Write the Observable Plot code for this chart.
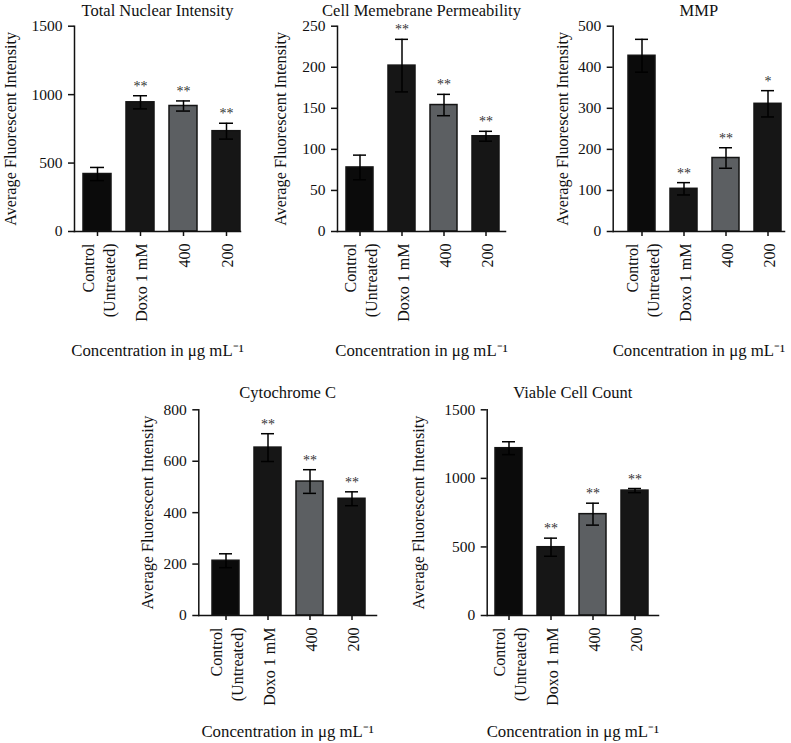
<!DOCTYPE html>
<html>
<head>
<meta charset="utf-8">
<script src="https://cdn.jsdelivr.net/npm/d3@7"></script>
<script src="https://cdn.jsdelivr.net/npm/@observablehq/plot@0.6"></script>
<style>
  body { margin: 0; background: #fff; }
  #root { position: relative; width: 791px; height: 743px; background: #fff; }
  #root svg { position: absolute; }
</style>
</head>
<body>
<div id="root"></div>
<script>
// ---- data ----
const categories = ["Control\n(Untreated)", "Doxo 1 mM", "400", "200"];

const nuclearMean = [420, 944, 917, 733];
const nuclearSem  = [48, 48, 37, 58];
const nuclearSig  = ["", "**", "**", "**"];

const permMean = [78, 202, 154, 116];
const permSem  = [15, 32, 13, 6];
const permSig  = ["", "**", "**", "**"];

const mmpMean = [428, 104, 179, 311];
const mmpSem  = [40, 15, 25, 32];
const mmpSig  = ["", "**", "**", "*"];

const cytoMean = [213, 653, 521, 454];
const cytoSem  = [27, 54, 46, 27];
const cytoSig  = ["", "**", "**", "**"];

const viableMean = [1220, 498, 739, 911];
const viableSem  = [47, 66, 80, 15];
const viableSig  = ["", "**", "**", "**"];

const panelTitles = ["Total Nuclear Intensity", "Cell Memebrane Permeability", "MMP", "Cytochrome C", "Viable Cell Count"];
const yTicksNuclear = [0, 500, 1000, 1500];
const yTicksPerm = [0, 50, 100, 150, 200, 250];
const yTicksMmp = [0, 100, 200, 300, 400, 500];
const yTicksCyto = [0, 200, 400, 600, 800];
const yTicksViable = [0, 500, 1000, 1500];
const yLabel = "Average Fluorescent Intensity";
const xLabel = "Concentration in μg mL⁻¹";

// ---- styles / layout ----
const barColors = ["#0b0b0b", "#161616", "#5c5f62", "#161616"];
const layout = [
  {left: 0,   top: 0,   width: 260, height: 370, axisX: 74,    axisEnd: 240, barStart: 83,    barEnd: 240, yTop: 25.7,  yZero: 231, labelDx: -64, titleY: 10,  xLabelY: 350},
  {left: 262, top: 0,   width: 260, height: 370, axisX: 337,   axisEnd: 505, barStart: 345,   barEnd: 501, yTop: 25.7,  yZero: 231, labelDx: -57, titleY: 10,  xLabelY: 350},
  {left: 530, top: 0,   width: 261, height: 370, axisX: 612.7, axisEnd: 784, barStart: 627,   barEnd: 783, yTop: 25.7,  yZero: 231, labelDx: -50, titleY: 10,  xLabelY: 350},
  {left: 120, top: 370, width: 270, height: 373, axisX: 198.3, axisEnd: 376, barStart: 210.7, barEnd: 367, yTop: 409.3, yZero: 615, labelDx: -51, titleY: 392, xLabelY: 731},
  {left: 400, top: 370, width: 280, height: 373, axisX: 486.7, axisEnd: 658, barStart: 494,   barEnd: 649, yTop: 409.3, yZero: 615, labelDx: -68, titleY: 392, xLabelY: 731}
];

const panels = [
  {mean: nuclearMean, sem: nuclearSem, sig: nuclearSig, ticks: yTicksNuclear},
  {mean: permMean, sem: permSem, sig: permSig, ticks: yTicksPerm},
  {mean: mmpMean, sem: mmpSem, sig: mmpSig, ticks: yTicksMmp},
  {mean: cytoMean, sem: cytoSem, sig: cytoSig, ticks: yTicksCyto},
  {mean: viableMean, sem: viableSem, sig: viableSig, ticks: yTicksViable}
];

const root = document.getElementById("root");

panels.forEach((p, i) => {
  const L = layout[i];
  const rows = categories.map((c, j) => ({
    cat: c,
    mean: p.mean[j],
    lo: p.mean[j] - p.sem[j],
    hi: p.mean[j] + p.sem[j],
    sig: p.sig[j]
  }));
  const yMax = p.ticks[p.ticks.length - 1];
  const chart = Plot.plot({
    width: L.width,
    height: L.height,
    marginLeft: L.axisX - L.left,
    marginRight: L.left + L.width - L.axisEnd,
    marginTop: L.yTop - L.top,
    marginBottom: L.top + L.height - L.yZero,
    style: {fontFamily: "'Liberation Serif', 'Times New Roman', serif", fontSize: "15px", color: "#111", background: "transparent", overflow: "visible"},
    x: {domain: categories, range: [L.barStart - L.left, L.barEnd - L.left], paddingInner: 0.35, paddingOuter: 0, label: null},
    y: {domain: [0, yMax], label: null},
    color: {domain: categories, range: barColors},
    marks: [
      Plot.barY(rows, {x: "cat", y: "mean", fill: "cat", stroke: "#141414", strokeWidth: 1.5}),
      Plot.ruleX(rows, {x: "cat", y1: "lo", y2: "hi", stroke: "#000", strokeWidth: 1.5}),
      Plot.tickY(rows, {x: "cat", y: "hi", stroke: "#000", strokeWidth: 1.5, insetLeft: 7, insetRight: 7}),
      Plot.tickY(rows, {x: "cat", y: "lo", stroke: "#000", strokeWidth: 1.5, insetLeft: 7, insetRight: 7}),
      Plot.text(rows, {x: "cat", y: "hi", text: "sig", fontSize: 14, lineAnchor: "bottom", dy: -5, fill: "#333"}),
      Plot.frame({anchor: "left", stroke: "#111", strokeWidth: 1.5}),
      Plot.frame({anchor: "bottom", stroke: "#111", strokeWidth: 1.5}),
      Plot.axisY({ticks: p.ticks, tickFormat: d => String(d), tickSize: 6, tickPadding: 6, strokeWidth: 1.5, fontSize: 15.5, label: null}),
      Plot.axisX({tickSize: 5, tickPadding: 7, tickRotate: -90, fontSize: 16, lineHeight: 1.3, strokeWidth: 1.5, label: null}),
      Plot.text([panelTitles[i]], {frameAnchor: "top", dy: L.titleY - L.yTop, lineAnchor: "middle", fontSize: 16.5}),
      Plot.text([yLabel], {frameAnchor: "left", dx: L.labelDx, rotate: -90, lineAnchor: "middle", textAnchor: "middle", fontSize: 16.2}),
      Plot.text([xLabel], {frameAnchor: "bottom", dy: L.xLabelY - L.yZero, lineAnchor: "middle", fontSize: 16.8})
    ]
  });
  chart.style.left = L.left + "px";
  chart.style.top = L.top + "px";
  root.appendChild(chart);
});
</script>
</body>
</html>
